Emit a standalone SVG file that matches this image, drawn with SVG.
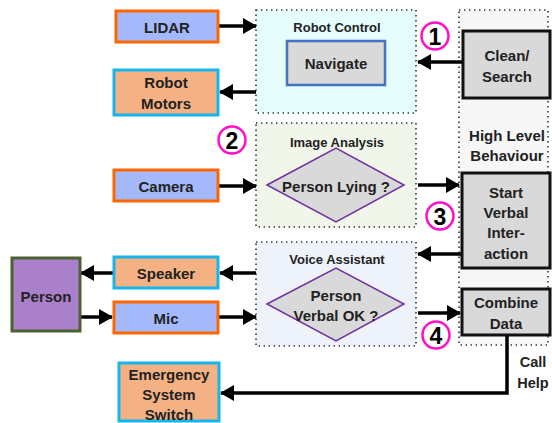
<svg xmlns="http://www.w3.org/2000/svg" width="552" height="423" viewBox="0 0 552 423">
<defs>
<marker id="ah" markerUnits="userSpaceOnUse" markerWidth="14" markerHeight="16" refX="13" refY="8" orient="auto">
<path d="M0,0 L14,8 L0,16 Z" fill="#000"/>
</marker>
<style>
text{font-family:"Liberation Sans",Arial,sans-serif;font-weight:bold;fill:#222;text-anchor:middle;dominant-baseline:central}
.t{font-size:15px}
.h{font-size:13px}
.ch{font-size:14.5px}
.n{font-size:23px;fill:#000}
.cont{stroke:#333;stroke-width:1.6;stroke-dasharray:1.4 3.6}
.in{fill:#a4b9fb;stroke:#ff6600;stroke-width:3}
.out{fill:#f4b183;stroke:#16b6ec;stroke-width:3}
.gray{fill:#d9d9d9;stroke:#111;stroke-width:3}
.dia{fill:#d9d9d9;stroke:#7030a0;stroke-width:1.5}
.num{fill:#fff;stroke:#ff10c8;stroke-width:2.5}
.c line,.c path{stroke:#000;stroke-width:3.5;fill:none}
</style>
</defs>

<g id="containers">
<rect id="robot-control" x="256" y="10" width="160" height="103" fill="#e6fdfd" class="cont"/>
<rect id="high-level" x="459" y="10" width="89" height="335" fill="#f7f7f7" class="cont"/>
<rect id="image-analysis" x="256" y="123" width="160" height="104" fill="#f0f6ea" class="cont"/>
<rect id="voice-assistant" x="256" y="242" width="160" height="104" fill="#eef2fb" class="cont"/>
<text class="h" x="337" y="27">Robot Control</text>
<text class="h" x="337" y="142">Image Analysis</text>
<text class="h" x="337" y="259">Voice Assistant</text>
<text class="t" x="507" y="135">High Level</text>
<text class="t" x="507" y="155">Behaviour</text>
</g>

<g class="c" id="connectors">
<line x1="219" y1="26" x2="256" y2="26" marker-end="url(#ah)"/>
<line x1="256" y1="92" x2="220" y2="92" marker-end="url(#ah)"/>
<line x1="463" y1="62" x2="418" y2="62" marker-end="url(#ah)"/>
<line x1="219" y1="186" x2="256" y2="186" marker-end="url(#ah)"/>
<line x1="418" y1="185" x2="459" y2="185" marker-end="url(#ah)"/>
<line x1="461" y1="254" x2="418" y2="254" marker-end="url(#ah)"/>
<line x1="256" y1="273" x2="220" y2="273" marker-end="url(#ah)"/>
<line x1="113" y1="273" x2="81" y2="273" marker-end="url(#ah)"/>
<line x1="80" y1="317" x2="112" y2="317" marker-end="url(#ah)"/>
<line x1="219" y1="317" x2="256" y2="317" marker-end="url(#ah)"/>
<line x1="418" y1="313" x2="460" y2="313" marker-end="url(#ah)"/>
<path d="M507,335 V393 H221" marker-end="url(#ah)"/>
</g>

<g id="lidar"><rect x="116" y="11" width="102" height="31" class="in"/><text class="t" x="167" y="27">LIDAR</text></g>
<g id="robot-motors"><rect x="114" y="70" width="104" height="45" class="out"/><text class="t" x="166" y="82">Robot</text><text class="t" x="166" y="103">Motors</text></g>
<g id="navigate"><rect x="287" y="41" width="98" height="44" fill="#d9d9d9" stroke="#4472c4" stroke-width="2.5"/><text class="t" x="336" y="63">Navigate</text></g>
<g id="clean-search"><rect x="463" y="31" width="87" height="67" class="gray"/><text class="t" x="507" y="55">Clean/</text><text class="t" x="507" y="76">Search</text></g>
<g id="camera"><rect x="114" y="170" width="104" height="31" class="in"/><text class="t" x="166" y="186">Camera</text></g>
<g id="person-lying"><path d="M267,185 L336,148 L404,185 L336,222 Z" class="dia"/><text class="t" x="336" y="186">Person Lying ?</text></g>
<g id="start-verbal"><rect x="462" y="173" width="88" height="95" class="gray"/><text class="t" x="506" y="192">Start</text><text class="t" x="506" y="212">Verbal</text><text class="t" x="506" y="232">Inter-</text><text class="t" x="506" y="253">action</text></g>
<g id="person"><rect x="12" y="258" width="68" height="73" fill="#ab80cb" stroke="#4a6130" stroke-width="3"/><text class="t" x="46" y="296">Person</text></g>
<g id="speaker"><rect x="114" y="257" width="104" height="31" class="out"/><text class="t" x="166" y="273">Speaker</text></g>
<g id="mic"><rect x="114" y="302" width="104" height="31" class="in"/><text class="t" x="166" y="318">Mic</text></g>
<g id="person-verbal"><path d="M267,304 L336,268 L404,304 L336,341 Z" class="dia"/><text class="t" x="336" y="295">Person</text><text class="t" x="336" y="315">Verbal OK ?</text></g>
<g id="combine"><rect x="462" y="289" width="88" height="46" class="gray"/><text class="t" x="506" y="302">Combine</text><text class="t" x="506" y="323">Data</text></g>
<g id="call-help"><text class="ch" x="533" y="362">Call</text><text class="ch" x="533" y="383">Help</text></g>
<g id="emergency"><rect x="119" y="363" width="100" height="58" class="out"/><text class="t" x="169" y="374">Emergency</text><text class="t" x="169" y="394">System</text><text class="t" x="169" y="414">Switch</text></g>

<g id="markers">
<circle cx="435" cy="36" r="13.5" class="num"/><text class="n" x="435" y="37">1</text>
<circle cx="232" cy="140" r="13.5" class="num"/><text class="n" x="232" y="141">2</text>
<circle cx="440" cy="216" r="13.5" class="num"/><text class="n" x="440" y="217">3</text>
<circle cx="436" cy="335" r="13.5" class="num"/><text class="n" x="436" y="336">4</text>
</g>
</svg>
